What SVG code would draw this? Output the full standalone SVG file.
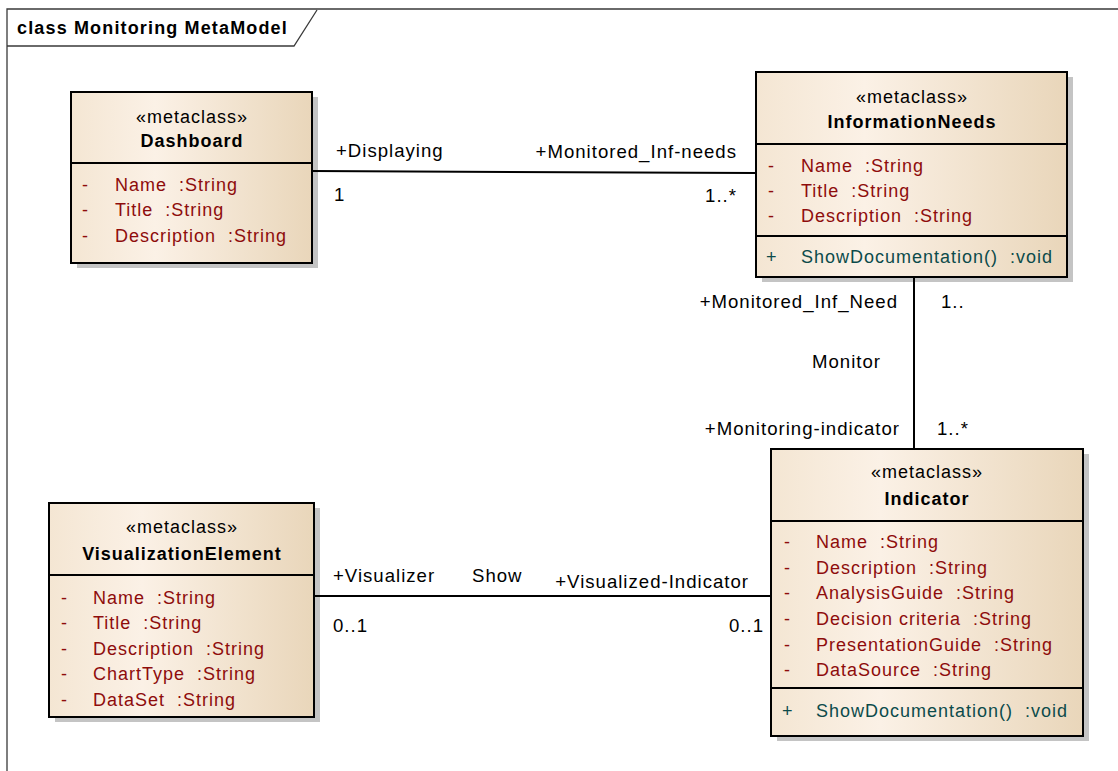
<svg xmlns="http://www.w3.org/2000/svg" width="1118" height="771" viewBox="0 0 1118 771">
  <style>
    text { font-family: "Liberation Sans", Arial, sans-serif; font-size: 18px; letter-spacing: 1px; }
    .frame { fill: none; stroke: #3a3a3a; stroke-width: 1.3; }
    .title { font-weight: bold; fill: #000; letter-spacing: 1.15px; }
    .box { stroke: #000; stroke-width: 2; fill: url(#classFill); }
    .shadow { fill: #c4c4c4; stroke: none; }
    .div { stroke: #000; stroke-width: 2; }
    .stereo { fill: #000; text-anchor: middle; }
    .name { fill: #000; font-weight: bold; text-anchor: middle; }
    .attr { fill: #8e0c0c; }
    .op { fill: #0c4b4b; }
    .conn { stroke: #000; stroke-width: 2; fill: none; }
    .lbl { fill: #000; font-size: 18.6px; }
    .end { text-anchor: end; }
  </style>
  <defs>
    <linearGradient id="classFill" x1="0" y1="0" x2="1" y2="0">
      <stop offset="0" stop-color="#f4e6d3"/>
      <stop offset="0.35" stop-color="#fbf1e6"/>
      <stop offset="1" stop-color="#e9d6ba"/>
    </linearGradient>
  </defs>

  <rect x="0" y="0" width="1118" height="771" fill="#fff"/>

  <!-- diagram frame with name tab -->
  <g id="frame">
    <path class="frame" d="M7,771 V9 H1118"/>
    <path class="frame" d="M7,46 H294 L317,10"/>
    <text class="title" x="17" y="34">class Monitoring MetaModel</text>
  </g>

  <g id="Dashboard">
    <rect class="shadow" x="77" y="97" width="241" height="171"/>
    <rect class="box" x="71" y="92" width="241" height="171"/>
    <line class="div" x1="71" y1="163" x2="312" y2="163"/>
    <text class="stereo" x="192" y="123">«metaclass»</text>
    <text class="name" x="192" y="147">Dashboard</text>
    <text class="attr" x="82" y="191">-</text>
    <text class="attr" x="115" y="191" xml:space="preserve">Name  :String</text>
    <text class="attr" x="82" y="216">-</text>
    <text class="attr" x="115" y="216" xml:space="preserve">Title  :String</text>
    <text class="attr" x="82" y="242">-</text>
    <text class="attr" x="115" y="242" xml:space="preserve">Description  :String</text>
  </g>

  <g id="InformationNeeds">
    <rect class="shadow" x="762" y="77" width="311" height="205"/>
    <rect class="box" x="756" y="72" width="311" height="205"/>
    <line class="div" x1="756" y1="144" x2="1067" y2="144"/>
    <line class="div" x1="756" y1="236" x2="1067" y2="236"/>
    <text class="stereo" x="912" y="103">«metaclass»</text>
    <text class="name" x="912" y="128">InformationNeeds</text>
    <text class="attr" x="768" y="172">-</text>
    <text class="attr" x="801" y="172" xml:space="preserve">Name  :String</text>
    <text class="attr" x="768" y="197">-</text>
    <text class="attr" x="801" y="197" xml:space="preserve">Title  :String</text>
    <text class="attr" x="768" y="222">-</text>
    <text class="attr" x="801" y="222" xml:space="preserve">Description  :String</text>
    <text class="op" x="766" y="263">+</text>
    <text class="op" x="801" y="263" xml:space="preserve">ShowDocumentation()  :void</text>
  </g>

  <g id="Indicator">
    <rect class="shadow" x="777" y="454" width="312" height="287"/>
    <rect class="box" x="771" y="449" width="312" height="287"/>
    <line class="div" x1="771" y1="521" x2="1083" y2="521"/>
    <line class="div" x1="771" y1="688" x2="1083" y2="688"/>
    <text class="stereo" x="927" y="478">«metaclass»</text>
    <text class="name" x="927" y="505">Indicator</text>
    <text class="attr" x="784" y="548">-</text>
    <text class="attr" x="816" y="548" xml:space="preserve">Name  :String</text>
    <text class="attr" x="784" y="574">-</text>
    <text class="attr" x="816" y="574" xml:space="preserve">Description  :String</text>
    <text class="attr" x="784" y="599">-</text>
    <text class="attr" x="816" y="599" xml:space="preserve">AnalysisGuide  :String</text>
    <text class="attr" x="784" y="625">-</text>
    <text class="attr" x="816" y="625" xml:space="preserve">Decision criteria  :String</text>
    <text class="attr" x="784" y="651">-</text>
    <text class="attr" x="816" y="651" xml:space="preserve">PresentationGuide  :String</text>
    <text class="attr" x="784" y="676">-</text>
    <text class="attr" x="816" y="676" xml:space="preserve">DataSource  :String</text>
    <text class="op" x="782" y="717">+</text>
    <text class="op" x="816" y="717" xml:space="preserve">ShowDocumentation()  :void</text>
  </g>

  <g id="VisualizationElement">
    <rect class="shadow" x="55" y="508" width="265" height="214"/>
    <rect class="box" x="49" y="503" width="265" height="214"/>
    <line class="div" x1="49" y1="575" x2="314" y2="575"/>
    <text class="stereo" x="182" y="533">«metaclass»</text>
    <text class="name" x="182" y="560">VisualizationElement</text>
    <text class="attr" x="61" y="604">-</text>
    <text class="attr" x="93" y="604" xml:space="preserve">Name  :String</text>
    <text class="attr" x="61" y="629">-</text>
    <text class="attr" x="93" y="629" xml:space="preserve">Title  :String</text>
    <text class="attr" x="61" y="655">-</text>
    <text class="attr" x="93" y="655" xml:space="preserve">Description  :String</text>
    <text class="attr" x="61" y="680">-</text>
    <text class="attr" x="93" y="680" xml:space="preserve">ChartType  :String</text>
    <text class="attr" x="61" y="706">-</text>
    <text class="attr" x="93" y="706" xml:space="preserve">DataSet  :String</text>
  </g>

  <!-- associations, drawn over the node shadows -->
  <g id="connectors">
    <line class="conn" x1="312" y1="171" x2="756" y2="173"/>
    <line class="conn" x1="914" y1="277" x2="914" y2="449"/>
    <line class="conn" x1="314" y1="596" x2="771" y2="596"/>

    <text class="lbl" x="336" y="157">+Displaying</text>
    <text class="lbl" x="334" y="201">1</text>
    <text class="lbl end" x="737" y="158">+Monitored_Inf-needs</text>
    <text class="lbl end" x="737" y="202">1..*</text>

    <text class="lbl end" x="898" y="308">+Monitored_Inf_Need</text>
    <text class="lbl" x="941" y="308">1..</text>
    <text class="lbl" x="812" y="368">Monitor</text>
    <text class="lbl end" x="900" y="435">+Monitoring-indicator</text>
    <text class="lbl" x="937" y="435">1..*</text>

    <text class="lbl" x="333" y="582">+Visualizer</text>
    <text class="lbl" x="472" y="582">Show</text>
    <text class="lbl end" x="749" y="588">+Visualized-Indicator</text>
    <text class="lbl" x="333" y="632">0..1</text>
    <text class="lbl end" x="764" y="632">0..1</text>
  </g>
</svg>
